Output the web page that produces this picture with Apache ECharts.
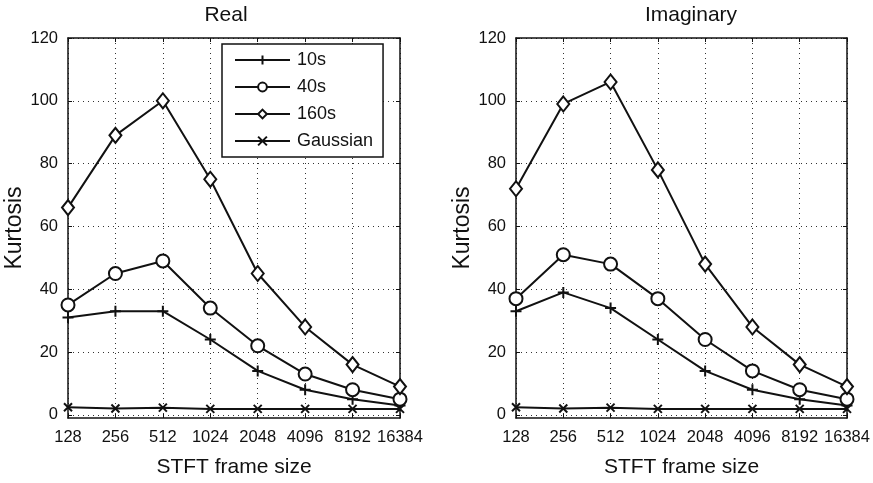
<!DOCTYPE html>
<html>
<head>
<meta charset="utf-8">
<script src="https://cdn.jsdelivr.net/npm/echarts@6/dist/echarts.min.js"></script>
<style>
  html, body { margin: 0; padding: 0; background: #fff; }
  #chart { width: 873px; height: 483px; }
</style>
</head>
<body>
<div id="chart"></div>
<script>
// STFT frame sizes on the horizontal axis
const frameSizes = ['128', '256', '512', '1024', '2048', '4096', '8192', '16384'];
const kurtosisTicks = [0, 20, 40, 60, 80, 100, 120];
const seriesNames = ['10s', '40s', '160s', 'Gaussian'];

// Kurtosis of the real part
const real10s = [31, 33, 33, 24, 14, 8, 5, 3];
const real40s = [35, 45, 49, 34, 22, 13, 8, 5];
const real160s = [66, 89, 100, 75, 45, 28, 16, 9];
const realGaussian = [2.4, 2.0, 2.3, 1.9, 1.9, 1.9, 1.9, 1.9];

// Kurtosis of the imaginary part
const imag10s = [33, 39, 34, 24, 14, 8, 5, 3];
const imag40s = [37, 51, 48, 37, 24, 14, 8, 5];
const imag160s = [72, 99, 106, 78, 48, 28, 16, 9];
const imagGaussian = [2.4, 2.0, 2.3, 1.9, 1.9, 1.9, 1.9, 1.9];

const FONT = '"Liberation Sans", Arial, Helvetica, sans-serif';
const INK = '#111';

const chart = echarts.init(document.getElementById('chart'), null, { renderer: 'canvas' });

const grids = [
  { left: 68, top: 38, width: 332, height: 384 },
  { left: 516, top: 38, width: 331, height: 384 }
];

const dotted = { show: true, lineStyle: { color: '#333', width: 1, type: [1, 4] } };
const tickIn = { show: true, inside: true, length: 4, lineStyle: { color: INK, width: 1 } };
const frame = { show: true, onZero: false, lineStyle: { color: INK, width: 1.5 } };

const xAxes = [];
const yAxes = [];
grids.forEach((g, i) => {
  xAxes.push({
    type: 'category', gridIndex: i, data: frameSizes, boundaryGap: false, position: 'bottom',
    axisLine: frame,
    axisTick: Object.assign({}, tickIn, { interval: 0 }),
    axisLabel: { interval: 0, margin: 11, fontSize: 16.5, color: INK, fontFamily: FONT },
    splitLine: Object.assign({}, dotted, { interval: 0 }),
    name: 'STFT frame size', nameLocation: 'middle', nameGap: 39,
    nameTextStyle: { fontSize: 21, color: INK, fontFamily: FONT }
  });
  xAxes.push({
    type: 'category', gridIndex: i, data: frameSizes, boundaryGap: false, position: 'top',
    axisLine: frame,
    axisTick: Object.assign({}, tickIn, { interval: 0 }),
    axisLabel: { show: false }, splitLine: { show: false }
  });
  yAxes.push({
    type: 'value', gridIndex: i, min: -1, max: 120, position: 'left',
    axisLine: frame,
    axisTick: Object.assign({}, tickIn, { customValues: kurtosisTicks }),
    axisLabel: { customValues: kurtosisTicks, margin: 10, fontSize: 16.5, color: INK, fontFamily: FONT },
    splitLine: dotted,
    name: 'Kurtosis', nameLocation: 'middle', nameGap: 40,
    nameTextStyle: { fontSize: 23, color: INK, fontFamily: FONT }
  });
  yAxes.push({
    type: 'value', gridIndex: i, min: -1, max: 120, position: 'right',
    axisLine: frame,
    axisTick: Object.assign({}, tickIn, { customValues: kurtosisTicks }),
    axisLabel: { show: false }, splitLine: { show: false }
  });
});

const plusPath = 'path://M5,0 L5,10 M0,5 L10,5';
const crossPath = 'path://M0,0 L10,10 M10,0 L0,10';

function makeSeries(name, data, gi) {
  const base = {
    name: name, type: 'line', data: data,
    xAxisIndex: gi * 2, yAxisIndex: gi * 2,
    lineStyle: { color: INK, width: 2 },
    itemStyle: { color: INK, borderColor: INK, borderWidth: 2 },
    showAllSymbol: true, silent: true, z: 3
  };
  if (name === '10s') { base.symbol = plusPath; base.symbolSize = 11; }
  else if (name === '40s') { base.symbol = 'emptyCircle'; base.symbolSize = 13; base.itemStyle.borderWidth = 1.8; }
  else if (name === '160s') { base.symbol = 'emptyDiamond'; base.symbolSize = [12, 15]; base.itemStyle.borderWidth = 1.8; }
  else { base.symbol = crossPath; base.symbolSize = 8; }
  return base;
}

const series = [
  makeSeries('10s', real10s, 0), makeSeries('40s', real40s, 0),
  makeSeries('160s', real160s, 0), makeSeries('Gaussian', realGaussian, 0),
  makeSeries('10s', imag10s, 1), makeSeries('40s', imag40s, 1),
  makeSeries('160s', imag160s, 1), makeSeries('Gaussian', imagGaussian, 1)
];

chart.setOption({
  animation: false,
  backgroundColor: '#fff',
  textStyle: { fontFamily: FONT },
  grid: grids,
  xAxis: xAxes,
  yAxis: yAxes,
  legend: {
    data: seriesNames, orient: 'vertical', left: 222, top: 44,
    itemWidth: 55, itemHeight: 11, itemGap: 9,
    padding: [7, 10, 7, 12],
    backgroundColor: '#fff', borderColor: INK, borderWidth: 1.5,
    selectedMode: false,
    textStyle: { fontSize: 18, color: INK, fontFamily: FONT, padding: [0, 0, 0, 2] }
  },
  graphic: [
    { type: 'text', x: 226, y: 15, style: { text: 'Real', fill: INK, font: '21px ' + FONT, textAlign: 'center', textVerticalAlign: 'middle' } },
    { type: 'text', x: 691, y: 15, style: { text: 'Imaginary', fill: INK, font: '21px ' + FONT, textAlign: 'center', textVerticalAlign: 'middle' } }
  ],
  series: series
});
</script>
</body>
</html>
